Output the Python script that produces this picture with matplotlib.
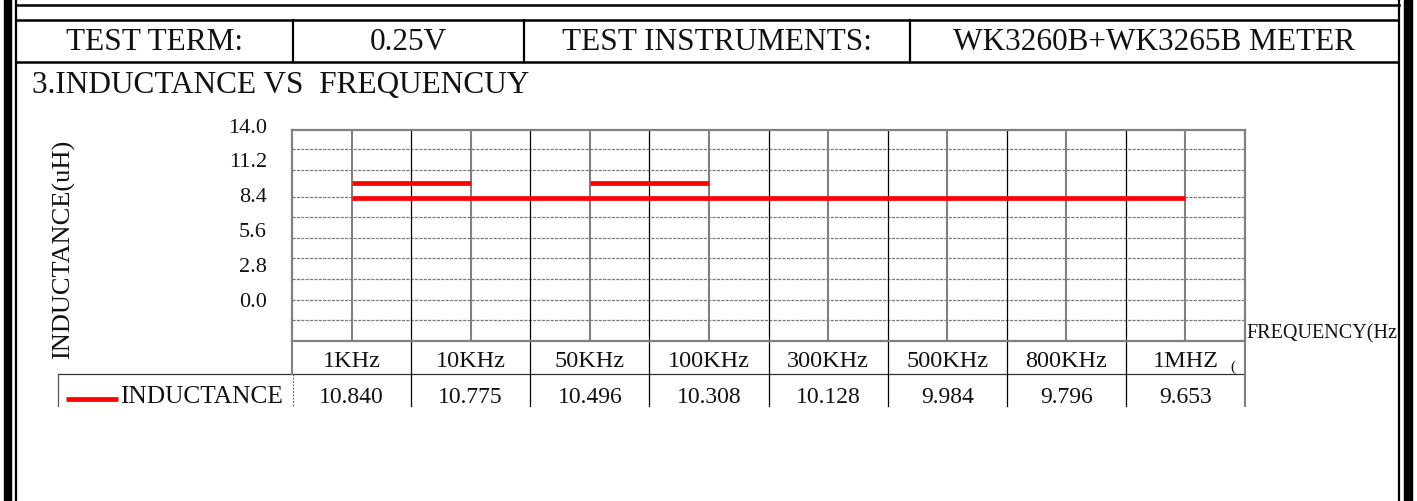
import matplotlib
matplotlib.use("Agg")
import matplotlib.pyplot as plt
from matplotlib.transforms import blended_transform_factory, ScaledTranslation
from matplotlib.patches import Rectangle

plt.rcParams['font.family'] = ['Liberation Serif', 'DejaVu Serif']

# ---------------- data ----------------
header_cells = ['TEST TERM:', '0.25V', 'TEST INSTRUMENTS:', 'WK3260B+WK3265B METER']
section_title = '3.INDUCTANCE VS  FREQUENCUY'
categories = ['1KHz', '10KHz', '50KHz', '100KHz', '300KHz', '500KHz', '800KHz', '1MHZ']
inductance_table = ['10.840', '10.775', '10.496', '10.308', '10.128', '9.984', '9.796', '9.653']
series_name = 'INDUCTANCE'
y_ticks = [0.0, 2.8, 5.6, 8.4, 11.2, 14.0]
y_label = 'INDUCTANCE(uH)'
x_label = 'FREQUENCY(Hz'
# line as rendered in the picture (read against the y labels)
trace_values = [8.1, 8.1, 8.1, 8.1, 8.1, 8.1, 8.1, 8.1]
upper_trace_cats = [['1KHz', '10KHz'], ['50KHz', '100KHz']]
upper_trace_vals = [[9.3, 9.3], [9.3, 9.3]]

# ---------------- figure ----------------
W, H = 1417, 501
fig = plt.figure(figsize=(W / 100, H / 100), dpi=100)

ov = fig.add_axes([0, 0, 1, 1])
ov.set_xlim(0, W)
ov.set_ylim(H, 0)
ov.axis('off')
ov.patch.set_visible(False)

PL, PR, PT, PB = 292, 1245, 130, 341
ax = fig.add_axes([PL / W, (H - PB) / H, (PR - PL) / W, (PB - PT) / H])
ax.set_xlim(-0.5, len(categories) - 0.5)
ax.set_ylim(-3.379, 13.598)
ax.set_xticks([])
ax.set_yticks([])
for s in ax.spines.values():
    s.set_color('#808080')
    s.set_linewidth(1.6)

# horizontal dashed grid
for f in [0.0995, 0.194, 0.294, 0.393, 0.488, 0.588, 0.682, 0.81, 0.91]:
    ax.plot([0, 1], [f, f], transform=ax.transAxes, color='#7a7a7a',
            lw=0.9, ls=(0, (2.5, 1)), zorder=1)
# vertical grid
x_idx = list(range(len(categories)))
for i in x_idx:
    ax.axvline(i, color='#808080', lw=1.5, zorder=1)
for i in x_idx[:-1]:
    ax.axvline(i + 0.5, color='black', lw=0.9, zorder=1)

# red traces
ax.plot(x_idx, trace_values, color='#ff0000', lw=3.4, solid_capstyle='butt', zorder=3)
for cats, vals in zip(upper_trace_cats, upper_trace_vals):
    ax.plot([categories.index(c) for c in cats], vals, color='#ff0000', lw=3.4,
            solid_capstyle='butt', zorder=3)

# y tick labels (drawn via the axis scale)
ytr = blended_transform_factory(ov.transData, ax.transData) + \
    ScaledTranslation(0, -7.5 / 100, fig.dpi_scale_trans)
for v in y_ticks:
    ov.text(267, v, f'{v:.1f}', transform=ytr, ha='right', va='baseline',
            fontsize=16, color='#111111', clip_on=False)

# y label
ov.text(64, 249, y_label, rotation=90, ha='center', va='center', fontsize=19,
        color='#111111')

# ---------------- frame ----------------
K = 'black'
ov.add_patch(Rectangle((4, 0), 7, H, color=K, zorder=6))
ov.add_patch(Rectangle((1404, 0), 8, H, color=K, zorder=6))
ov.plot([16, 16], [0, H], color=K, lw=1.6, zorder=6)
ov.plot([1399, 1399], [0, H], color=K, lw=1.6, zorder=6)
ov.add_patch(Rectangle((1400, 0), 4, H, color='white', zorder=5))
ov.plot([16, 1399], [5, 5], color=K, lw=1.8, zorder=6)

# header table
ov.plot([16, 1399], [20, 20], color=K, lw=1.8)
ov.plot([16, 1399], [62, 62], color=K, lw=1.8)
seps = [16, 293, 524, 910, 1399]
for x in seps[1:-1]:
    ov.plot([x, x], [20, 62], color=K, lw=1.6)
for i, t in enumerate(header_cells):
    ov.text((seps[i] + seps[i + 1]) / 2, 50, t, ha='center', va='baseline',
            fontsize=22.5, color='#111111')

ov.text(32, 93, section_title, ha='left', va='baseline', fontsize=22.5, color='#111111')

# ---------------- data table ----------------
tx = blended_transform_factory(ax.transData, ov.transData)
# category row
ov.plot([58, PR], [374, 374], color='#333333', lw=0.9)
ov.plot([PL, PL], [PB, 374], color='#808080', lw=1.5)
ov.plot([PR, PR], [PB, 406], color='#808080', lw=1.5)
for i in x_idx[:-1]:
    ov.plot([i + 0.5, i + 0.5], [PB, 406], transform=tx, color='black', lw=0.9)
for i, c in enumerate(categories):
    ov.text(i, 367, c, transform=tx, ha='center', va='baseline', fontsize=17.5,
            color='#111111')
ov.text(1233, 371, '(', ha='center', va='baseline', fontsize=11, color='#111111')
# value row
ov.plot([58, 58], [374, 406], color='#555555', lw=0.9)
ov.plot([PL + 1, PL + 1], [374, 406], color='#555555', lw=0.8, ls=(0, (1.5, 1.5)))
ov.plot([66, 118], [399, 399], color='#ff0000', lw=3.4, solid_capstyle='butt')
ov.text(283, 403, series_name, ha='right', va='baseline', fontsize=18.3, color='#111111')
for i, v in enumerate(inductance_table):
    ov.text(i, 403, v, transform=tx, ha='center', va='baseline', fontsize=17,
            color='#111111')

# x label (clipped by the right frame)
ov.text(1246, 338, x_label, ha='left', va='baseline', fontsize=14.5,
        color='#111111', zorder=3)

fig.savefig('out.png', dpi=100)
